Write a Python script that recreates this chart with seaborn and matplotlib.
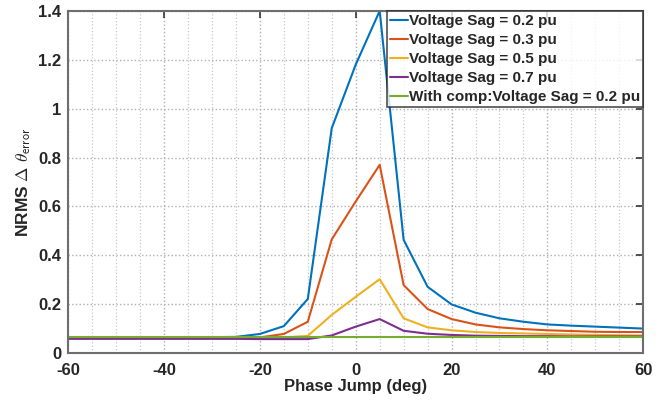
import matplotlib
matplotlib.use("Agg")
from matplotlib import pyplot as plt
from matplotlib.ticker import MultipleLocator, FormatStrFormatter
import seaborn as sns
import numpy as np
import pandas as pd

# %%
phase_jump = list(range(-60, 61, 5))

sag_02 = [0.065, 0.065, 0.065, 0.065, 0.065, 0.065, 0.065, 0.066, 0.078, 0.11, 0.221, 0.92, 1.18,
          1.40, 0.463, 0.271, 0.199, 0.165, 0.142, 0.128, 0.117, 0.112, 0.108, 0.104, 0.100]
sag_03 = [0.062, 0.062, 0.062, 0.062, 0.062, 0.062, 0.062, 0.062, 0.064, 0.078, 0.128, 0.465, 0.62,
          0.77, 0.278, 0.180, 0.139, 0.117, 0.105, 0.098, 0.093, 0.090, 0.087, 0.086, 0.086]
sag_05 = [0.062, 0.062, 0.062, 0.062, 0.062, 0.062, 0.062, 0.062, 0.062, 0.064, 0.070, 0.156, 0.23,
          0.302, 0.142, 0.105, 0.093, 0.086, 0.082, 0.080, 0.078, 0.076, 0.074, 0.073, 0.072]
sag_07 = [0.058, 0.058, 0.058, 0.058, 0.058, 0.058, 0.058, 0.058, 0.057, 0.057, 0.057, 0.072, 0.108,
          0.139, 0.091, 0.079, 0.074, 0.071, 0.070, 0.069, 0.069, 0.068, 0.068, 0.068, 0.068]
comp_02 = [0.067] * len(phase_jump)

labels = ['Voltage Sag = 0.2 pu', 'Voltage Sag = 0.3 pu', 'Voltage Sag = 0.5 pu',
          'Voltage Sag = 0.7 pu', 'With comp:Voltage Sag = 0.2 pu']
colors = ['#0072BD', '#D95319', '#EDB120', '#7E2F8E', '#77AC30']

# %%
frames = []
for lab, vals in zip(labels, [sag_02, sag_03, sag_05, sag_07, comp_02]):
    frames.append(pd.DataFrame({'phase': phase_jump, 'nrms': vals, 'series': lab}))
df = pd.concat(frames, ignore_index=True)

sns.set_style('white')
plt.rcParams['font.family'] = ['Liberation Sans', 'DejaVu Sans']
plt.rcParams['font.weight'] = 'bold'
plt.rcParams['mathtext.fontset'] = 'cm'
plt.rcParams['axes.unicode_minus'] = False

fig = plt.figure(figsize=(6.68, 4.03), dpi=100)
ax = fig.add_axes([0.102, 0.124, 0.861, 0.849])

sns.lineplot(data=df, x='phase', y='nrms', hue='series', hue_order=labels,
             palette=colors, linewidth=1.5, ax=ax)

ax.set_xlim(-60, 60)
ax.set_ylim(0, 1.4)
ax.xaxis.set_major_locator(MultipleLocator(20))
ax.xaxis.set_minor_locator(MultipleLocator(5))
ax.yaxis.set_major_locator(MultipleLocator(0.2))
ax.yaxis.set_major_formatter(FormatStrFormatter('%g'))

ax.grid(which='major', axis='both', color='#b0b0b0', linestyle=':', linewidth=1.0)
ax.grid(which='minor', axis='x', color='#c8c8c8', linestyle=':', linewidth=0.9)
ax.tick_params(which='major', direction='in', length=5, width=1.2, color='#333333',
               top=True, right=True, labelsize=12)
ax.tick_params(axis='x', pad=7)
ax.tick_params(axis='y', pad=5)
ax.tick_params(which='minor', length=0)
for s in ax.spines.values():
    s.set_color('#6e6e6e')
    s.set_linewidth(1.5)
for t in ax.get_xticklabels() + ax.get_yticklabels():
    t.set_fontweight('bold')

ax.set_xlabel('Phase Jump (deg)', fontsize=12, fontweight='bold', labelpad=1)
ax.set_ylabel(r'NRMS $\Delta$ $\theta_{\mathsf{error}}$', fontsize=12.5, fontweight='bold', labelpad=4)

leg = ax.legend(loc='upper right', frameon=True, fancybox=False, fontsize=11,
                handlelength=1.2, handletextpad=0.05, borderpad=0.2, labelspacing=0.33,
                borderaxespad=0.0)
leg.get_frame().set_edgecolor('#222222')
leg.get_frame().set_linewidth(1.2)
for t in leg.get_texts():
    t.set_fontweight('bold')

fig.savefig('out.png', dpi=100)
